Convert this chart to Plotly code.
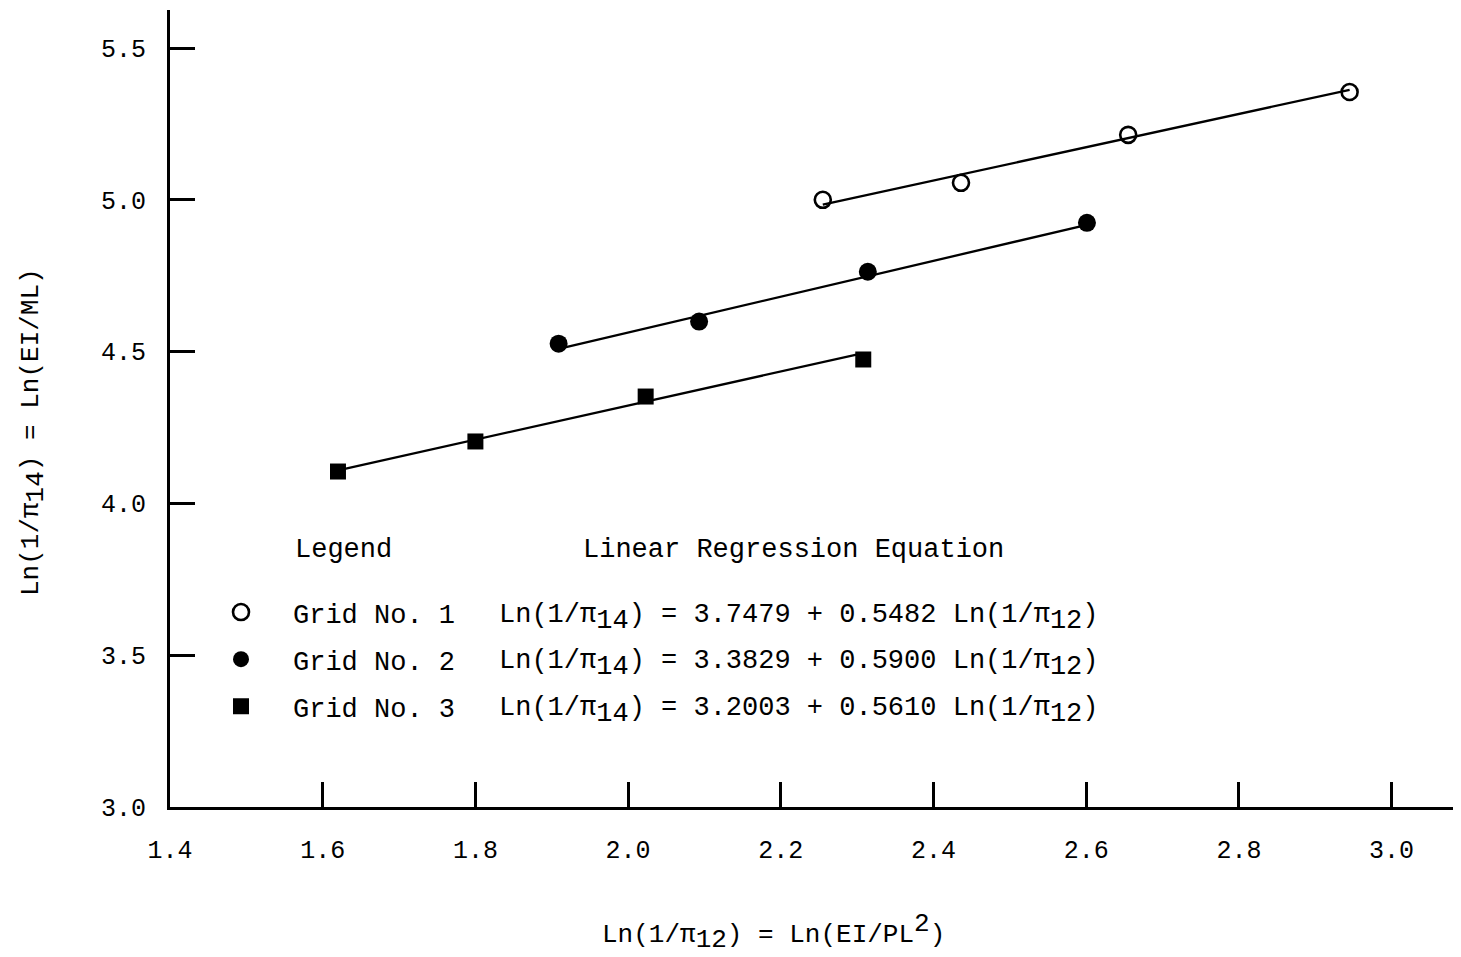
import plotly.graph_objects as go

# ---- data ----
grid_names = ["Grid No. 1", "Grid No. 2", "Grid No. 3"]
x_grid1 = [2.255, 2.436, 2.655, 2.945]
y_grid1 = [5.000, 5.056, 5.214, 5.355]
x_grid2 = [1.909, 2.093, 2.314, 2.601]
y_grid2 = [4.526, 4.599, 4.763, 4.924]
x_grid3 = [1.620, 1.800, 2.023, 2.308]
y_grid3 = [4.105, 4.204, 4.352, 4.474]
intercepts = [3.7479, 3.3829, 3.2003]
slopes = [0.5482, 0.5900, 0.5610]
x_ticks = [1.4, 1.6, 1.8, 2.0, 2.2, 2.4, 2.6, 2.8, 3.0]
y_ticks = [3.0, 3.5, 4.0, 4.5, 5.0, 5.5]

FONT = "Liberation Mono"
xs = [x_grid1, x_grid2, x_grid3]
ys = [y_grid1, y_grid2, y_grid3]
markers = [
    dict(symbol="circle-open", size=16, color="black", line=dict(width=2.6, color="black")),
    dict(symbol="circle", size=18, color="black", line=dict(width=0)),
    dict(symbol="square", size=16, color="black", line=dict(width=0)),
]


def sub(t, size):
    return f'<sub><span style="font-size:{size}px">{t}</span></sub>'


def sup(t, size):
    return f'<sup><span style="font-size:{size}px">{t}</span></sup>'


fig = go.Figure()
for i in range(3):
    x0, x1 = min(xs[i]), max(xs[i])
    fig.add_trace(go.Scatter(
        x=[x0, x1], y=[intercepts[i] + slopes[i] * x0, intercepts[i] + slopes[i] * x1],
        mode="lines", line=dict(color="black", width=2.3), showlegend=False, hoverinfo="skip"))
for i in range(3):
    fig.add_trace(go.Scatter(
        x=xs[i], y=ys[i], mode="markers", marker=markers[i], name=grid_names[i],
        legendgroup=f"g{i}", showlegend=True))

# legend header and equations
fig.add_annotation(x=1.561, y=3.845, xref="x", yref="y", text="Legend", showarrow=False,
                   xanchor="left", yanchor="middle", font=dict(family=FONT, size=27, color="black"))
fig.add_annotation(x=1.938, y=3.845, xref="x", yref="y", text="Linear Regression Equation",
                   showarrow=False, xanchor="left", yanchor="middle",
                   font=dict(family=FONT, size=27, color="black"))
eq_y = [3.622, 3.470, 3.316]
for i in range(3):
    txt = (f"Ln(1/π{sub('14', 27)}) = {intercepts[i]:.4f} + {slopes[i]:.4f} "
           f"Ln(1/π{sub('12', 27)})")
    fig.add_annotation(x=1.828, y=eq_y[i], xref="x", yref="y", text=txt, showarrow=False,
                       xanchor="left", yanchor="middle",
                       font=dict(family=FONT, size=27, color="black"))

# axis titles
fig.add_annotation(x=(773 - 170) / 1291, y=(807 - 932) / 797, xref="paper", yref="paper",
                   text=f"Ln(1/π{sub('12', 26)}) = Ln(EI/PL{sup('2', 26)})", showarrow=False,
                   xanchor="center", yanchor="middle",
                   font=dict(family=FONT, size=26, color="black"))
fig.add_annotation(x=(34 - 170) / 1291, y=(807 - 432) / 797, xref="paper", yref="paper",
                   text=f"Ln(1/π{sub('14', 26)}) = Ln(EI/ML)", showarrow=False, textangle=-90,
                   xanchor="center", yanchor="middle",
                   font=dict(family=FONT, size=26, color="black"))

# page body has an 8px margin, so shrink the figure and margins by 8px to land on the reference
fig.update_layout(
    width=1453, height=949,
    margin=dict(l=162, r=0, t=2, b=150),
    paper_bgcolor="white", plot_bgcolor="white",
    font=dict(family=FONT, size=26, color="black"),
    legend=dict(x=(189 - 170) / 1291, y=(807 - 588) / 797, xanchor="left", yanchor="top",
                itemwidth=94, tracegroupgap=9, traceorder="grouped",
                bgcolor="rgba(0,0,0,0)", font=dict(family=FONT, size=27, color="black")),
    xaxis=dict(range=[1.4, 1.4 + 1291 / 763.5], tickvals=x_ticks,
               ticktext=[f"{v:.1f}" for v in x_ticks],
               showgrid=False, zeroline=False, showline=True, linecolor="black", linewidth=3,
               ticks="inside", ticklen=25, tickwidth=2.5, tickcolor="black",
               ticklabelstandoff=18, tickfont=dict(family=FONT, size=25, color="black")),
    yaxis=dict(range=[3.0, 3.0 + 797 / 303.6], tickvals=y_ticks,
               ticktext=[f"{v:.1f}" for v in y_ticks],
               showgrid=False, zeroline=False, showline=True, linecolor="black", linewidth=3,
               ticks="inside", ticklen=25, tickwidth=2.5, tickcolor="black",
               ticklabelstandoff=16, tickfont=dict(family=FONT, size=25, color="black")),
)

fig.write_html("out.html")
